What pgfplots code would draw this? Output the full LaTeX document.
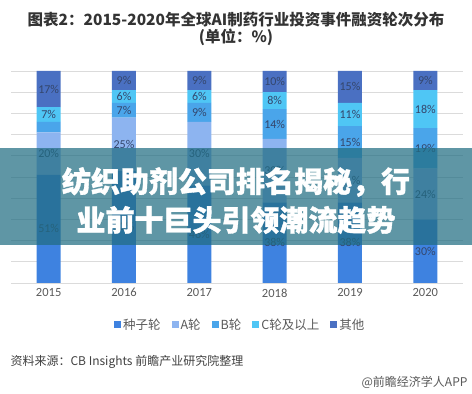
\documentclass[border=0pt]{standalone}
\usepackage{pgfplots}
\pgfplotsset{compat=1.18}
\usepackage{fontspec}
\setmainfont{Noto Sans CJK SC}
\newfontfamily\cjk{Noto Sans CJK SC}
\newfontfamily\heavy{Noto Sans CJK SC}[BoldFeatures={FakeBold=1.2}]
\newfontfamily\carlito{Carlito}
\definecolor{seed}{HTML}{3E82E0}
\definecolor{rA}{HTML}{8DB4F0}
\definecolor{rB}{HTML}{4AA5EA}
\definecolor{rC}{HTML}{4FC6F5}
\definecolor{rO}{HTML}{4A70C2}
\definecolor{lblc}{HTML}{34466C}
\definecolor{tickc}{HTML}{595959}
\definecolor{titlec}{HTML}{333333}
\definecolor{band}{RGB}{33,109,130}
\begin{document}
\begin{tikzpicture}[x=1pt,y=1pt]
\useasboundingbox (0,0) rectangle (472,394);
\begin{axis}[
  at={(11pt,111pt)}, anchor=south west,
  scale only axis, width=452pt, height=212pt,
  ybar stacked, bar width=24pt,
  xmin=-0.5, xmax=5.5, ymin=0, ymax=100,
  xtick={0,1,2,3,4,5}, xticklabels={2015,2016,2017,2018,2019,2020},
  ytick={0,10,...,100}, yticklabels={},
  ymajorgrids, grid style={draw=black!14, line width=0.7pt},
  axis line style={draw=none}, major tick length=0pt,
  xticklabel style={font=\carlito\fontsize{12.5}{13}\selectfont, text=tickc, yshift=-2pt},
  legend columns=5,
  legend style={at={(axis description cs:0.507,-0.198)}, anchor=center, draw=none, fill=none,
    font=\cjk\fontsize{12.5}{13}\selectfont, text=tickc,
    /tikz/every even column/.append style={column sep=9pt}, inner sep=0pt},
  legend image code/.code={\fill[#1] (0pt,-3.5pt) rectangle (7pt,3.5pt);},
]
\addplot[fill=seed, draw=none] coordinates {(0,51) (1,53) (2,46) (3,38) (4,38) (5,30)};
\addplot[fill=rA, draw=none] coordinates {(0,20) (1,25) (2,30) (3,30) (4,21) (5,24)};
\addplot[fill=rB, draw=none] coordinates {(0,5) (1,7) (2,9) (3,14) (4,15) (5,19)};
\addplot[fill=rC, draw=none] coordinates {(0,7) (1,6) (2,6) (3,8) (4,11) (5,18)};
\addplot[fill=rO, draw=none] coordinates {(0,17) (1,9) (2,9) (3,10) (4,15) (5,9)};
\legend{种子轮, A轮, B轮, C轮及以上, 其他}
\end{axis}
\begin{axis}[
  at={(11pt,111pt)}, anchor=south west,
  scale only axis, width=452pt, height=212pt,
  xmin=-0.5, xmax=5.5, ymin=0, ymax=100,
  axis lines=none, ticks=none,
  nodes near coords, point meta=explicit symbolic,
  nodes near coords style={anchor=center, font=\carlito\fontsize{12}{12}\selectfont, text=lblc},
]
\addplot[draw=none, mark=none] coordinates {
 (0,25.5)[51\%] (0,61)[20\%] (0,79.5)[7\%] (0,91.5)[17\%]
 (1,26.5)[53\%] (1,65.5)[25\%] (1,81.5)[7\%] (1,88)[6\%] (1,95.5)[9\%]
 (2,23)[46\%] (2,61)[30\%] (2,80.5)[9\%] (2,88)[6\%] (2,95.5)[9\%]
 (3,19)[38\%] (3,53)[30\%] (3,75)[14\%] (3,86)[8\%] (3,95)[10\%]
 (4,19)[38\%] (4,48.5)[21\%] (4,66.5)[15\%] (4,79.5)[11\%] (4,92.5)[15\%]
 (5,15)[30\%] (5,42)[24\%] (5,63.5)[19\%] (5,82)[18\%] (5,95.5)[9\%]
};
\end{axis}
% title
\node[font=\cjk\bfseries\fontsize{15.5}{18}\selectfont, text=titlec] at (236,374) {图表2：2015-2020年全球AI制药行业投资事件融资轮次分布};
\node[font=\cjk\bfseries\fontsize{15.5}{18}\selectfont, text=titlec] at (236,357) {(单位：\%)};
% band overlay
\fill[band, opacity=0.72] (0,149) rectangle (472,246);
\node[font=\heavy\bfseries\fontsize{29}{30}\selectfont, text=white] at (236,212) {纺织助剂公司排名揭秘，行};
\node[font=\heavy\bfseries\fontsize{29}{30}\selectfont, text=white] at (236,174) {业前十巨头引领潮流趋势};
% source
\node[anchor=west, font=\cjk\fontsize{12}{13}\selectfont, text=black!75] at (7,32) {资料来源：CB Insights 前瞻产业研究院整理};
\node[anchor=east, font=\cjk\fontsize{12}{13}\selectfont, text=black!65] at (471,12) {@前瞻经济学人APP};
\end{tikzpicture}
\end{document}
